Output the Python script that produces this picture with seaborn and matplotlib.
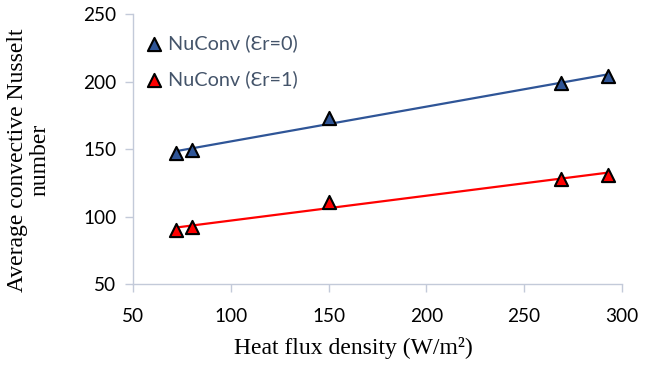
import matplotlib
matplotlib.use("Agg")
import matplotlib.pyplot as plt
import seaborn as sns
import pandas as pd

# Heat flux density (W/m²) and average convective Nusselt number
heat_flux = [72, 80, 150, 269, 293]
nu_er0 = [147, 149, 173, 199, 204]
nu_er1 = [90, 92, 111, 128, 131]

series_labels = ["NuConv (Ɛr=0)", "NuConv (Ɛr=1)"]
x_ticks = [50, 100, 150, 200, 250, 300]
y_ticks = [50, 100, 150, 200, 250]

df = pd.DataFrame({"flux": heat_flux, "er0": nu_er0, "er1": nu_er1})

sns.set_theme(style="white")
plt.rcParams["font.family"] = ["Lato", "DejaVu Sans"]

axis_col = "#C3CAD9"
blue = "#2F5597"
red = "#FF0000"

fig = plt.figure(figsize=(6.65, 3.71), dpi=100)
ax = fig.add_axes([0.2, 0.2345, 0.735, 0.7275])

for col, colour, lab in [("er0", blue, series_labels[0]), ("er1", red, series_labels[1])]:
    sns.regplot(data=df, x="flux", y=col, ax=ax, ci=None, truncate=True,
                marker="^", label=lab,
                scatter_kws=dict(s=90, color=colour, edgecolors="black",
                                 linewidths=1.5, alpha=1, zorder=3),
                line_kws=dict(color=colour, lw=1.6, zorder=2))

ax.set_xlim(50, 300)
ax.set_ylim(50, 250)
ax.set_xticks(x_ticks)
ax.set_yticks(y_ticks)

for side in ["top", "right"]:
    ax.spines[side].set_visible(False)
for side in ["left", "bottom"]:
    ax.spines[side].set_color(axis_col)
    ax.spines[side].set_linewidth(1.0)

ax.tick_params(axis="both", which="major", direction="out", length=6,
               width=1.0, color=axis_col, labelsize=13.7, labelcolor="black",
               left=True, bottom=True)
ax.tick_params(axis="y", pad=6)
ax.tick_params(axis="x", pad=11)

ax.set_xlabel("Heat flux density (W/m²)", family="Liberation Serif",
              fontsize=17, color="black")
ax.xaxis.set_label_coords(0.45, -0.195)
ax.set_ylabel("Average convective Nusselt\nnumber", family="Liberation Serif",
              fontsize=17, color="black", linespacing=1.1,
              multialignment="center")
ax.yaxis.set_label_coords(-0.168, 0.46)

leg = ax.legend(loc="upper left", bbox_to_anchor=(-0.018, 0.975), frameon=False,
                fontsize=14.3, handletextpad=-0.1, labelspacing=0.9,
                markerscale=1.0, borderaxespad=0.3, handlelength=1.6)
for t in leg.get_texts():
    t.set_color("#44546A")

fig.savefig("out.png", dpi=100)
